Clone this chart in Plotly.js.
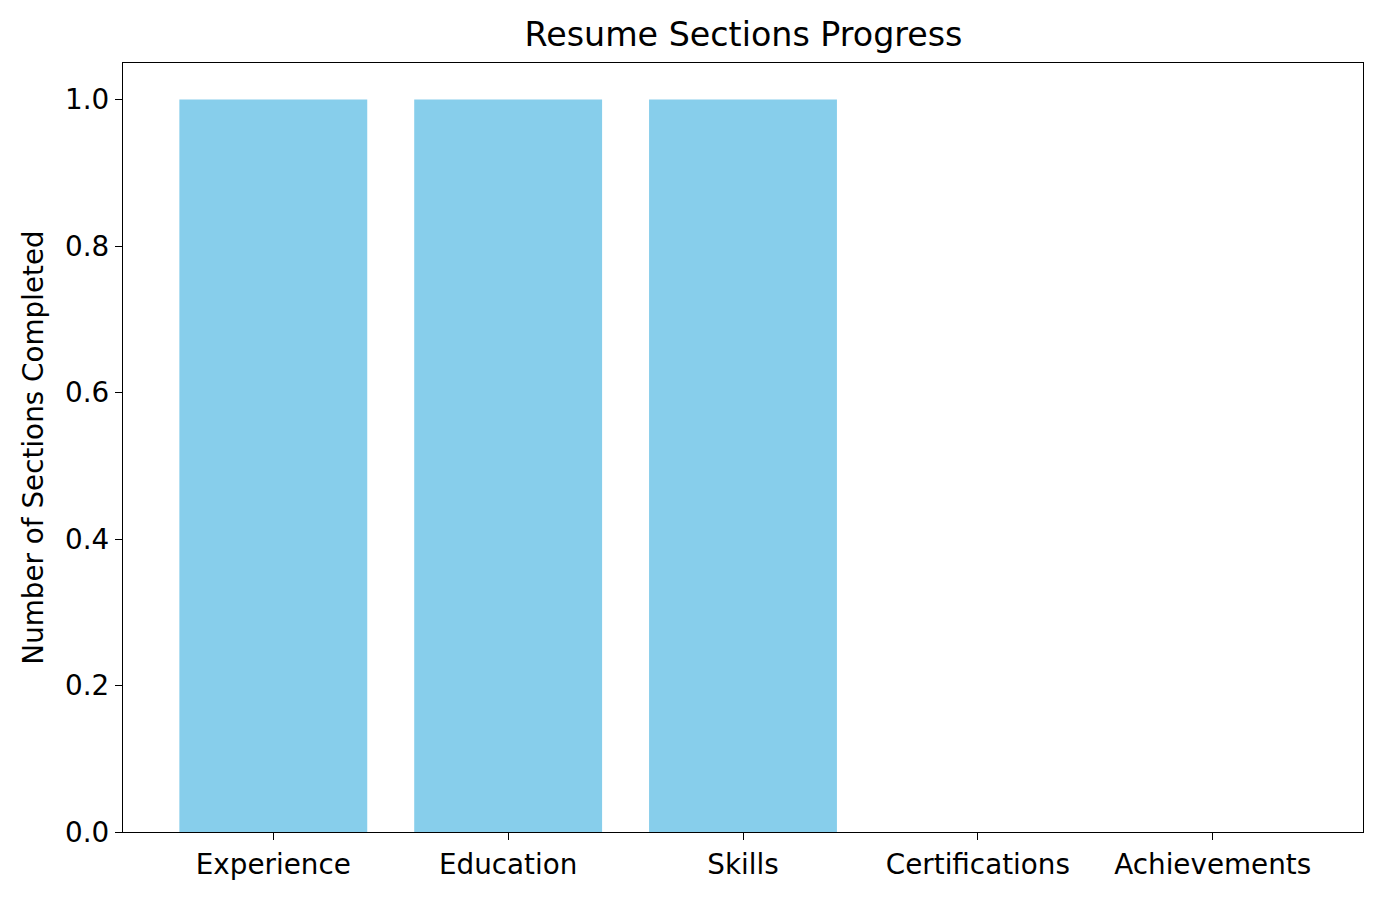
<!DOCTYPE html>
<html>
<head>
<meta charset="utf-8">
<script src="https://cdn.plot.ly/plotly-3.0.1.min.js"></script>
<style>html,body{margin:0;padding:0;background:#fff;}#chart{width:1382px;height:900px;}</style>
</head>
<body>
<div id="chart"></div>
<script>
const categories = ["Experience", "Education", "Skills", "Certifications", "Achievements"];
const completed = [1, 1, 1, 0, 0];
const tickVals = [0, 0.2, 0.4, 0.6, 0.8, 1.0];

const font = {family: "DejaVu Sans, sans-serif", size: 27.8, color: "#000"};
Plotly.newPlot("chart", [{
  type: "bar",
  x: categories.map((c, i) => i),
  y: completed,
  width: 0.8,
  marker: {color: "#87CEEB"},
  hoverinfo: "x+y"
}], {
  width: 1382, height: 900,
  margin: {l: 123, r: 19, t: 63, b: 68},
  paper_bgcolor: "#fff", plot_bgcolor: "#fff",
  font: font,
  showlegend: false,
  title: {text: "Resume Sections Progress", font: {family: font.family, size: 33.3, color: "#000"}, x: 0.538, xanchor: "center", y: 0.962, yanchor: "middle"},
  xaxis: {
    range: [-0.64, 4.64],
    tickvals: categories.map((c, i) => i),
    ticktext: categories,
    ticks: "outside", ticklen: 7, tickwidth: 1.3, tickcolor: "#000",
    showline: true, linecolor: "#000", linewidth: 1.3, mirror: true,
    showgrid: false, zeroline: false,
    tickfont: font
  },
  yaxis: {
    range: [0, 1.05],
    tickvals: tickVals,
    ticktext: tickVals.map(v => v.toFixed(1)),
    ticks: "outside", ticklen: 7, tickwidth: 1.3, tickcolor: "#000",
    showline: true, linecolor: "#000", linewidth: 1.3, mirror: true,
    showgrid: false, zeroline: false,
    tickfont: font,
    title: {text: "Number of Sections Completed", font: font, standoff: 13}
  }
}, {displayModeBar: false});
</script>
</body>
</html>
